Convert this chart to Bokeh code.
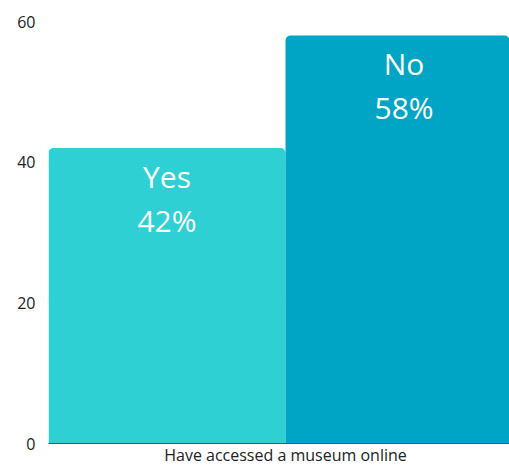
from bokeh.plotting import figure
from bokeh.models import Range1d, FixedTicker, ColumnDataSource
from bokeh.core.properties import value
from bokeh.embed import file_html
from bokeh.resources import INLINE

category = "Have accessed a museum online"
answers = ["Yes", "No"]
percents = [42, 58]
colors = ["#2ed0d4", "#00a5c5"]
y_ticks = [0, 20, 40, 60]

FONT = "Open Sans"

xs = [i - 0.5 for i in range(len(answers))]
src = ColumnDataSource(dict(
    x=xs, top=percents, color=colors, name=answers,
    pct=[f"{v}%" for v in percents],
))

p = figure(width=509, height=468, output_backend="svg", toolbar_location=None,
           x_range=Range1d(-1, 0.945), y_range=Range1d(0, 60))
p.min_border_left = 48
p.min_border_right = 0
p.min_border_top = 21
p.min_border_bottom = 25
p.outline_line_color = None

p.vbar(x="x", top="top", width=1.0, bottom=0, fill_color="color",
       line_color=None, source=src, border_radius=(5, 5, 0, 0))

p.text(x="x", y="top", text="name", source=src, text_color="white",
       text_font=value(FONT), text_font_size="30px", text_align="center",
       text_baseline="middle", y_offset=28)
p.text(x="x", y="top", text="pct", source=src, text_color="white",
       text_font=value(FONT), text_font_size="30px", text_align="center",
       text_baseline="middle", y_offset=72)

p.xgrid.visible = False
p.ygrid.ticker = FixedTicker(ticks=y_ticks)
p.ygrid.grid_line_color = "#cccccc"
p.ygrid.grid_line_width = 1

p.yaxis.ticker = FixedTicker(ticks=y_ticks)
p.yaxis.axis_line_color = None
p.yaxis.major_tick_line_color = None
p.yaxis.minor_tick_line_color = None
p.yaxis.major_tick_out = 0
p.yaxis.major_tick_in = 0
p.yaxis.major_label_text_font = FONT
p.yaxis.major_label_text_font_size = "16px"
p.yaxis.major_label_text_color = "#222222"
p.yaxis.major_label_standoff = 13

p.xaxis.ticker = FixedTicker(ticks=[0])
p.xaxis.major_label_overrides = {0: category}
p.xaxis.axis_line_color = "#555555"
p.xaxis.axis_line_width = 1
p.xaxis.major_tick_line_color = None
p.xaxis.minor_tick_line_color = None
p.xaxis.major_tick_out = 0
p.xaxis.major_tick_in = 0
p.xaxis.major_label_text_font = FONT
p.xaxis.major_label_text_font_size = "16px"
p.xaxis.major_label_text_color = "#222222"
p.xaxis.major_label_standoff = 0

open("out.html", "w").write(file_html(p, INLINE))
